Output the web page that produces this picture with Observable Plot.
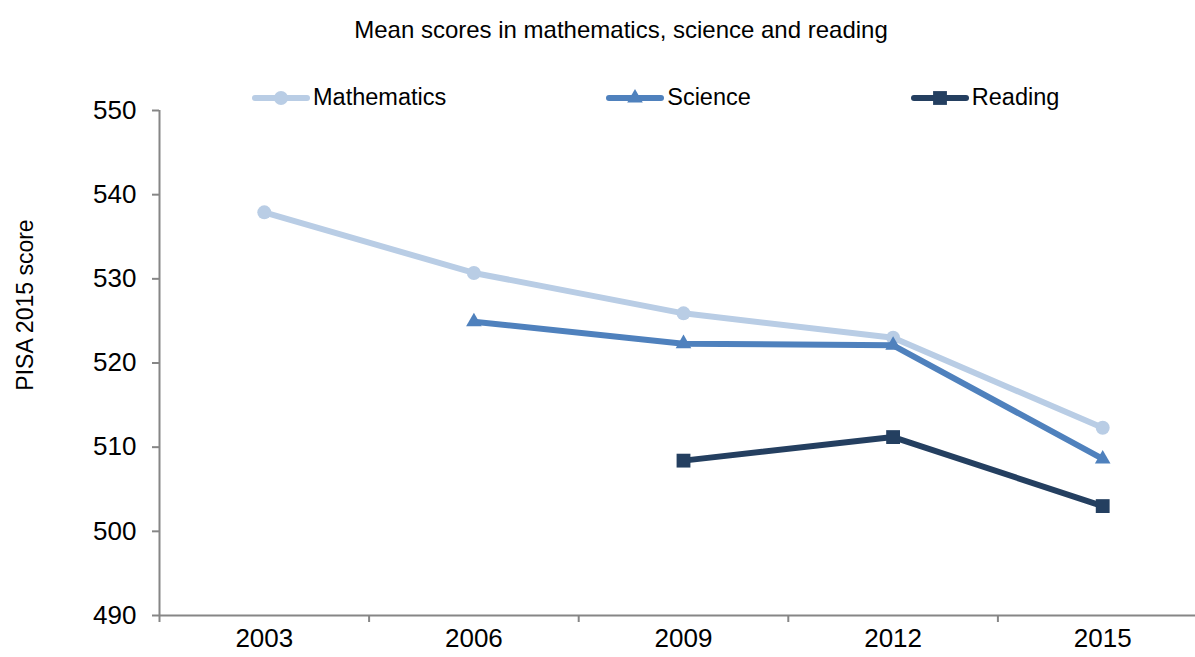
<!DOCTYPE html>
<html>
<head>
<meta charset="utf-8">
<script src="https://cdn.jsdelivr.net/npm/d3@7"></script>
<script src="https://cdn.jsdelivr.net/npm/@observablehq/plot@0.6"></script>
<style>
  html, body { margin: 0; padding: 0; background: #fff; }
  body { font-family: "Liberation Sans", Arial, sans-serif; color: #000; }
  #wrap { position: relative; width: 1195px; height: 657px; overflow: hidden; }
  #chart { position: absolute; left: 0; top: 0; }
  #title { position: absolute; top: 16px; left: 0; width: 1242px; text-align: center; font-size: 24px; }
  #ytitle { position: absolute; left: 25px; top: 305px; font-size: 23px; white-space: nowrap;
            transform: translate(-50%, -50%) rotate(-90deg); }
  #legend { position: absolute; left: 252px; top: 84px; display: flex; gap: 160px; font-size: 23.5px; align-items: center; }
  .item { display: flex; align-items: center; }
  .item svg { display: block; margin-right: 3px; }
</style>
</head>
<body>
<div id="wrap">
  <div id="chart"></div>
  <div id="title"></div>
  <div id="ytitle"></div>
  <div id="legend"></div>
</div>
<script>
// ---- data ----
const titleText = "Mean scores in mathematics, science and reading";
const yTitle = "PISA 2015 score";
const years = [2003, 2006, 2009, 2012, 2015];
const subjects = ["Mathematics", "Science", "Reading"];
const mathematics = [537.9, 530.7, 525.9, 523.0, 512.3];
const science = [null, 524.9, 522.3, 522.1, 508.6];
const reading = [null, null, 508.4, 511.2, 503.0];
const yTicks = [490, 500, 510, 520, 530, 540, 550];

// ---- styling ----
const colors = ["#B9CDE5", "#4F81BD", "#243F60"];
const symbols = ["circle", "triangle", "square"];
const radii = [7, 5.8, 7.8];
const axisGray = "#868686";

const seriesValues = [mathematics, science, reading];
const rows = [];
subjects.forEach((s, i) => {
  years.forEach((y, j) => {
    const v = seriesValues[i][j];
    if (v != null) rows.push({ subject: s, year: y, score: v });
  });
});

const step = years[1] - years[0];
const xDomain = [years[0] - step / 2, years[years.length - 1] + step / 2];
const bounds = d3.range(xDomain[0], xDomain[1] + 0.001, step);

const marks = [
  Plot.ruleY([yTicks[0]], { x1: xDomain[0], x2: xDomain[1], stroke: axisGray, strokeWidth: 2 }),
  Plot.ruleX([xDomain[0]], { y1: yTicks[0], y2: yTicks[yTicks.length - 1], stroke: axisGray, strokeWidth: 2 }),
  Plot.axisY({ ticks: yTicks, tickSize: 7, tickPadding: 16, fontSize: 26, stroke: axisGray, strokeWidth: 2, label: null }),
  Plot.axisX({ ticks: bounds, tickSize: 7, tickFormat: () => "", stroke: axisGray, strokeWidth: 2, label: null }),
  Plot.axisX({ ticks: years, tickSize: 0, tickPadding: 13, fontSize: 26, tickFormat: d => String(d), label: null })
];
subjects.forEach((s, i) => {
  const d = rows.filter(r => r.subject === s);
  marks.push(Plot.line(d, { x: "year", y: "score", stroke: colors[i], strokeWidth: 6, strokeLinejoin: "round", strokeLinecap: "round" }));
  marks.push(Plot.dot(d, { x: "year", y: "score", fill: colors[i], stroke: "none", symbol: () => symbols[i], r: radii[i] }));
});

const chart = Plot.plot({
  width: 1195,
  height: 657,
  marginLeft: 159,
  marginRight: -12,
  marginTop: 110,
  marginBottom: 42,
  x: { domain: xDomain, range: [159, 1207], label: null },
  y: { domain: [yTicks[0], yTicks[yTicks.length - 1]], range: [615, 110], label: null },
  style: { fontFamily: "'Liberation Sans', Arial, sans-serif", background: "transparent", overflow: "visible" },
  marks
});
document.getElementById("chart").appendChild(chart);
document.getElementById("title").textContent = titleText;
document.getElementById("ytitle").textContent = yTitle;

// legend
const legend = document.getElementById("legend");
subjects.forEach((s, i) => {
  const item = document.createElement("div");
  item.className = "item";
  const svg = d3.create("svg").attr("width", 58).attr("height", 20);
  svg.append("line").attr("x1", 3).attr("x2", 55).attr("y1", 10).attr("y2", 10)
    .attr("stroke", colors[i]).attr("stroke-width", 6).attr("stroke-linecap", "round");
  const symType = { circle: d3.symbolCircle, triangle: d3.symbolTriangle, square: d3.symbolSquare }[symbols[i]];
  svg.append("path").attr("transform", "translate(29,10)")
    .attr("d", d3.symbol(symType, Math.PI * radii[i] * radii[i])())
    .attr("fill", colors[i]);
  item.appendChild(svg.node());
  const t = document.createElement("span");
  t.textContent = s;
  item.appendChild(t);
  legend.appendChild(item);
});
</script>
</body>
</html>
